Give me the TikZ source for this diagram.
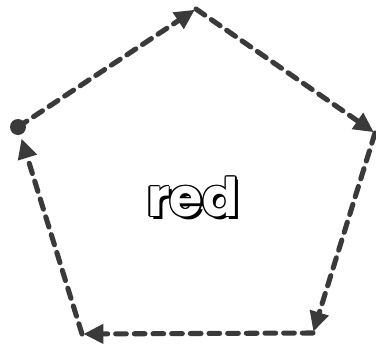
\documentclass[tikz,border=0pt]{standalone}
\usepackage{fontspec}
\usepackage{tikz}
\usetikzlibrary{arrows.meta,calc}
\newfontfamily\labelfont{Poppins}[BoldFont={* Bold}]
\definecolor{ink}{HTML}{3A3A3A}
\tikzset{
  edge/.style={-{Triangle[length=15pt,width=14pt]}, draw=ink, line width=3.8pt,
               dash pattern=on 8pt off 6pt, line cap=round, shorten >=1pt},
  dot/.style={circle, fill=ink, inner sep=0pt, minimum size=12pt},
  lbl/.style={font=\labelfont\bfseries\fontsize{40}{40}\selectfont, inner sep=0pt}
}
\begin{document}
\begin{tikzpicture}[x=0.75pt, y=-0.75pt]
  \useasboundingbox (0,0) rectangle (376,347);
  \coordinate (v1) at (18,127);
  \coordinate (v2) at (196,9);
  \coordinate (v3) at (375,133);
  \coordinate (v4) at (313,333);
  \coordinate (v5) at (82,334);
  \node[dot] (start) at (v1) {};
  \draw[edge] (start.center) -- (v2);
  \draw[edge] (v2) -- (v3);
  \draw[edge] (v3) -- (v4);
  \draw[edge] (v4) -- (v5);
  \draw[edge, shorten >=9pt] (v5) -- (start.center);
  % shadow, outline, then face of the label
  \node[lbl, text=black] (shadow) at (196,200) {red};
  \foreach \dx/\dy in {-1.3/0,1.3/0,0/-1.3,0/1.3,-0.9/-0.9,0.9/-0.9,-0.9/0.9,0.9/0.9}
    \node[lbl, text=black] at ($(193,197)+(\dx,\dy)$) {red};
  \node[lbl, text=white] (word) at (193,197) {red};
\end{tikzpicture}
\end{document}
